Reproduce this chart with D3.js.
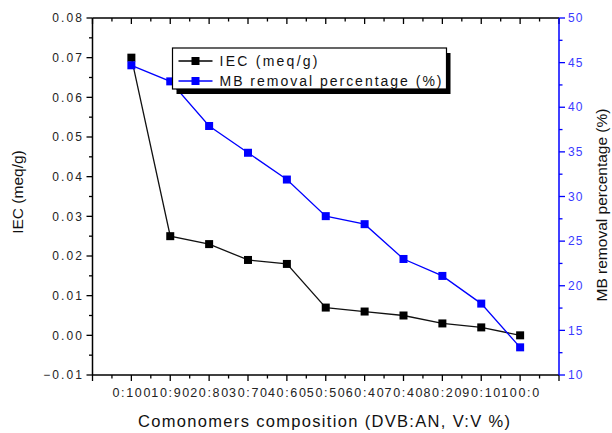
<!DOCTYPE html>
<html><head><meta charset="utf-8">
<script src="https://cdn.jsdelivr.net/npm/d3@7"></script>
<style>
html,body{margin:0;padding:0;background:#fff;}
svg{display:block;font-family:"Liberation Sans",Arial,sans-serif;}
</style></head>
<body>
<svg id="chart" width="612" height="433"></svg>
<script>
const categories = ["0:100","10:90","20:80","30:70","40:60","50:50","60:40","70:40","80:20","90:10","100:0"];
const iecValues = [0.070,0.025,0.023,0.019,0.018,0.007,0.006,0.005,0.003,0.002,0.000];
const mbValues = [44.7,42.9,37.9,34.9,31.9,27.8,26.9,23.0,21.1,18.0,13.1];
const leftTicks = [-0.01,0.00,0.01,0.02,0.03,0.04,0.05,0.06,0.07,0.08];
const rightTicks = [10,15,20,25,30,35,40,45,50];
const seriesNames = ["IEC (meq/g)","MB removal percentage (%)"];
const xTitle = "Comonomers composition (DVB:AN, V:V %)";

const svg = d3.select("#chart");
const L = 92.5, R = 559, T = 18, B = 375;
const BLUE = "#0000ff";

const x = d3.scaleLinear().domain([-1, 11]).range([L, R]);
const yL = d3.scaleLinear().domain([-0.01, 0.08]).range([B, T]);
const yR = d3.scaleLinear().domain([10, 50]).range([B, T]);

const idx = d3.range(categories.length);
const halfX = d3.range(-1, 11.01, 0.5);

// bottom axis (outward ticks)
const gB = svg.append("g").attr("transform", `translate(0,${B})`);
gB.selectAll("line.t").data(halfX).join("line")
  .attr("x1", d => x(d)).attr("x2", d => x(d))
  .attr("y1", 0).attr("y2", d => Number.isInteger(d) ? 6 : 3.5)
  .attr("stroke", "#000").attr("stroke-width", 1.3);
gB.selectAll("text").data(idx).join("text")
  .attr("x", i => x(i) - 19).attr("y", 21.5)
  .attr("text-anchor", "start").attr("font-size", 12.5)
  .attr("textLength", 38).attr("lengthAdjust", "spacing")
  .attr("fill", "#222").text(i => categories[i]);

// top axis (inward ticks)
svg.append("g").selectAll("line").data(halfX).join("line")
  .attr("x1", d => x(d)).attr("x2", d => x(d))
  .attr("y1", T).attr("y2", d => T + (Number.isInteger(d) ? 6 : 3.5))
  .attr("stroke", "#000").attr("stroke-width", 1.3);

// left axis
const leftMinor = d3.range(-0.01, 0.0801, 0.005);
const gL = svg.append("g");
gL.selectAll("line").data(leftMinor).join("line")
  .attr("x1", L).attr("x2", (d, i) => L - (i % 2 === 0 ? 6 : 3.5))
  .attr("y1", d => yL(d)).attr("y2", d => yL(d))
  .attr("stroke", "#000").attr("stroke-width", 1.3);
gL.selectAll("text").data(leftTicks).join("text")
  .attr("x", L - 8.5).attr("y", d => yL(d)).attr("dy", "0.35em")
  .attr("text-anchor", "end").attr("font-size", 12).attr("letter-spacing", 2.1).attr("fill", "#222")
  .text(d => d3.format(".2f")(d));

// right axis
const rightMinor = d3.range(10, 50.01, 2.5);
const gR = svg.append("g");
gR.selectAll("line").data(rightMinor).join("line")
  .attr("x1", R).attr("x2", (d, i) => R + (i % 2 === 0 ? 6 : 3.5))
  .attr("y1", d => yR(d)).attr("y2", d => yR(d))
  .attr("stroke", BLUE).attr("stroke-width", 1.3);
gR.selectAll("text").data(rightTicks).join("text")
  .attr("x", R + 9).attr("y", d => yR(d)).attr("dy", "0.35em")
  .attr("text-anchor", "start").attr("font-size", 12).attr("letter-spacing", 1).attr("fill", "#3a3aff")
  .text(d => d);

// frame
svg.append("line").attr("x1", L).attr("x2", R).attr("y1", T).attr("y2", T).attr("stroke", "#000").attr("stroke-width", 1.5);
svg.append("line").attr("x1", L).attr("x2", R).attr("y1", B).attr("y2", B).attr("stroke", "#000").attr("stroke-width", 1.5);
svg.append("line").attr("x1", L).attr("x2", L).attr("y1", T).attr("y2", B).attr("stroke", "#000").attr("stroke-width", 1.5);
svg.append("line").attr("x1", R).attr("x2", R).attr("y1", T).attr("y2", B).attr("stroke", BLUE).attr("stroke-width", 1.5);

// axis titles
svg.append("text").attr("transform", `translate(23,192) rotate(-90)`)
  .attr("text-anchor", "middle").attr("font-size", 15.5).attr("fill", "#111").text("IEC (meq/g)");
svg.append("text").attr("transform", `translate(607,205) rotate(-90)`)
  .attr("text-anchor", "middle").attr("font-size", 15.5).attr("fill", "#111").text(seriesNames[1]);
svg.append("text").attr("x", 138).attr("y", 427)
  .attr("text-anchor", "start").attr("font-size", 16.5)
  .attr("textLength", 372).attr("lengthAdjust", "spacing")
  .attr("fill", "#111").text(xTitle);

// series
const lineL = d3.line().x((d, i) => x(i)).y(d => yL(d));
const lineR = d3.line().x((d, i) => x(i)).y(d => yR(d));
svg.append("path").datum(iecValues).attr("d", lineL).attr("fill", "none").attr("stroke", "#111").attr("stroke-width", 1.3);
svg.append("g").selectAll("rect").data(iecValues).join("rect")
  .attr("x", (d, i) => x(i) - 4).attr("y", d => yL(d) - 4).attr("width", 8).attr("height", 8).attr("fill", "#000");
svg.append("path").datum(mbValues).attr("d", lineR).attr("fill", "none").attr("stroke", BLUE).attr("stroke-width", 1.3);
svg.append("g").selectAll("rect").data(mbValues).join("rect")
  .attr("x", (d, i) => x(i) - 4).attr("y", d => yR(d) - 4).attr("width", 8).attr("height", 8).attr("fill", BLUE);

// legend
const lg = svg.append("g");
const lx = 172.5, ly = 48, lw = 274, lh = 41;
lg.append("rect").attr("x", lx + 4).attr("y", ly + 5).attr("width", lw).attr("height", lh).attr("fill", "#000");
lg.append("rect").attr("x", lx).attr("y", ly).attr("width", lw).attr("height", lh).attr("fill", "#fff").attr("stroke", "#000").attr("stroke-width", 1.2);
const legendColors = ["#000", BLUE];
const legendLens = [98, 222];
seriesNames.forEach((name, i) => {
  const yy = ly + 13 + i * 20;
  lg.append("line").attr("x1", lx + 6).attr("x2", lx + 40).attr("y1", yy).attr("y2", yy).attr("stroke", legendColors[i]).attr("stroke-width", 1.3);
  lg.append("rect").attr("x", lx + 23 - 4).attr("y", yy - 4).attr("width", 8).attr("height", 8).attr("fill", legendColors[i]);
  lg.append("text").attr("x", lx + 47).attr("y", yy).attr("dy", "0.35em")
    .attr("font-size", 14).attr("textLength", legendLens[i]).attr("lengthAdjust", "spacing")
    .attr("fill", "#111").text(name);
});
</script>
</body></html>
